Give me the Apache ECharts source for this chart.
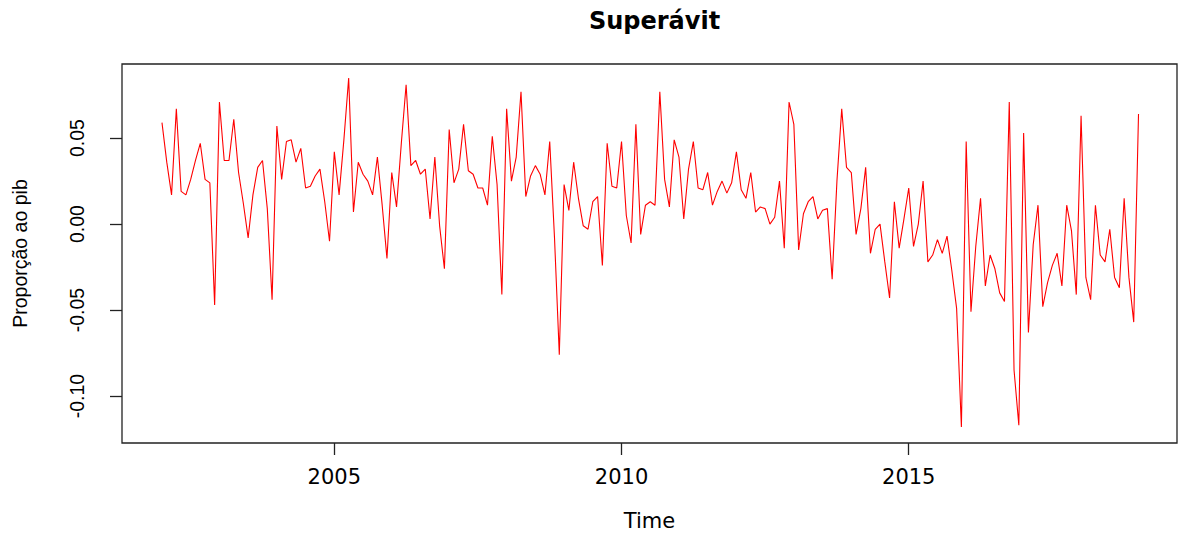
<!DOCTYPE html>
<html>
<head>
<meta charset="utf-8">
<script src="https://cdn.jsdelivr.net/npm/echarts@6/dist/echarts.min.js"></script>
<style>
html,body{margin:0;padding:0;background:#fff;}
#chart{width:1178px;height:536px;}
</style>
</head>
<body>
<div id="chart"></div>
<script>
// Monthly series, starting January 2002
const startYear = 2002;
const monthsPerYear = 12;
const superavit = [
  0.059, 0.036, 0.017, 0.067, 0.019, 0.017, 0.026, 0.037, 0.047, 0.026, 0.024, -0.047,
  0.071, 0.037, 0.037, 0.061, 0.030, 0.012, -0.008, 0.017, 0.033, 0.037, 0.009, -0.044,
  0.057, 0.026, 0.048, 0.049, 0.036, 0.044, 0.021, 0.022, 0.028, 0.032, 0.013, -0.010,
  0.042, 0.017, 0.049, 0.085, 0.007, 0.036, 0.029, 0.025, 0.017, 0.039, 0.011, -0.020,
  0.030, 0.010, 0.047, 0.081, 0.034, 0.037, 0.029, 0.032, 0.003, 0.039, -0.001, -0.026,
  0.055, 0.024, 0.032, 0.058, 0.031, 0.029, 0.021, 0.021, 0.011, 0.051, 0.023, -0.041,
  0.067, 0.025, 0.039, 0.077, 0.016, 0.028, 0.034, 0.029, 0.017, 0.048, -0.008, -0.076,
  0.023, 0.008, 0.036, 0.015, -0.001, -0.003, 0.013, 0.016, -0.024, 0.047, 0.022, 0.021,
  0.048, 0.005, -0.011, 0.058, -0.006, 0.011, 0.013, 0.011, 0.077, 0.026, 0.010, 0.049,
  0.039, 0.003, 0.032, 0.048, 0.021, 0.020, 0.030, 0.011, 0.019, 0.025, 0.018, 0.024,
  0.042, 0.020, 0.015, 0.030, 0.007, 0.010, 0.009, 0.000, 0.004, 0.025, -0.014, 0.071,
  0.058, -0.015, 0.006, 0.013, 0.016, 0.003, 0.008, 0.009, -0.032, 0.025, 0.067, 0.033,
  0.030, -0.006, 0.009, 0.033, -0.017, -0.003, 0.000, -0.022, -0.043, 0.013, -0.014, 0.003,
  0.021, -0.013, 0.000, 0.025, -0.022, -0.018, -0.009, -0.017, -0.007, -0.027, -0.049, -0.118,
  0.048, -0.051, -0.013, 0.015, -0.036, -0.018, -0.026, -0.040, -0.045, 0.071, -0.085, -0.117,
  0.053, -0.063, -0.012, 0.011, -0.048, -0.034, -0.024, -0.017, -0.036, 0.011, -0.004, -0.041,
  0.063, -0.031, -0.044, 0.011, -0.018, -0.022, -0.003, -0.031, -0.037, 0.015, -0.031, -0.057,
  0.064
];
const xTicks = [2005, 2010, 2015];
const yTicks = [-0.10, -0.05, 0.00, 0.05];
const titleText = 'Superávit';
const xName = 'Time';
const yName = 'Proporção ao pib';

const seriesData = superavit.map((v, i) => [startYear + i / monthsPerYear, v]);

const chart = echarts.init(document.getElementById('chart'), null, {renderer: 'svg'});
chart.setOption({
  animation: false,
  backgroundColor: '#ffffff',
  title: {
    text: titleText,
    left: 649.5,
    textAlign: 'center',
    top: 4,
    textStyle: {fontFamily: 'DejaVu Sans', fontWeight: 'bold', fontSize: 24, color: '#000'}
  },
  grid: {left: 122, right: 1, top: 64, bottom: 92, show: true, borderColor: '#222', borderWidth: 1.3, backgroundColor: 'transparent'},
  xAxis: {
    type: 'value',
    position: 'bottom',
    min: 2001.304,
    max: 2019.67,
    name: xName,
    nameLocation: 'middle',
    nameGap: 67,
    nameTextStyle: {fontFamily: 'DejaVu Sans', fontSize: 21, color: '#000'},
    axisLine: {show: false, onZero: false},
    splitLine: {show: false},
    axisTick: {show: true, length: 12, customValues: xTicks, lineStyle: {color: '#222', width: 1.3}},
    axisLabel: {show: true, customValues: xTicks, margin: 23, fontFamily: 'DejaVu Sans', fontSize: 21, color: '#000', formatter: v => String(v)}
  },
  yAxis: {
    type: 'value',
    position: 'left',
    min: -0.1273,
    max: 0.0931,
    name: yName,
    nameLocation: 'middle',
    nameRotate: 90,
    nameGap: 92,
    nameTextStyle: {fontFamily: 'Liberation Sans', fontSize: 19.5, color: '#000'},
    axisLine: {show: false, onZero: false},
    splitLine: {show: false},
    axisTick: {show: true, length: 12, customValues: yTicks, lineStyle: {color: '#222', width: 1.3}},
    axisLabel: {show: true, customValues: yTicks, rotate: 90, margin: 35, fontFamily: 'Liberation Sans', fontSize: 19.5, color: '#000', formatter: v => v.toFixed(2)}
  },
  series: [{
    type: 'line',
    data: seriesData,
    showSymbol: false,
    symbol: 'none',
    lineStyle: {color: '#ff0000', width: 1.1},
    z: 3
  }]
});
</script>
</body>
</html>
